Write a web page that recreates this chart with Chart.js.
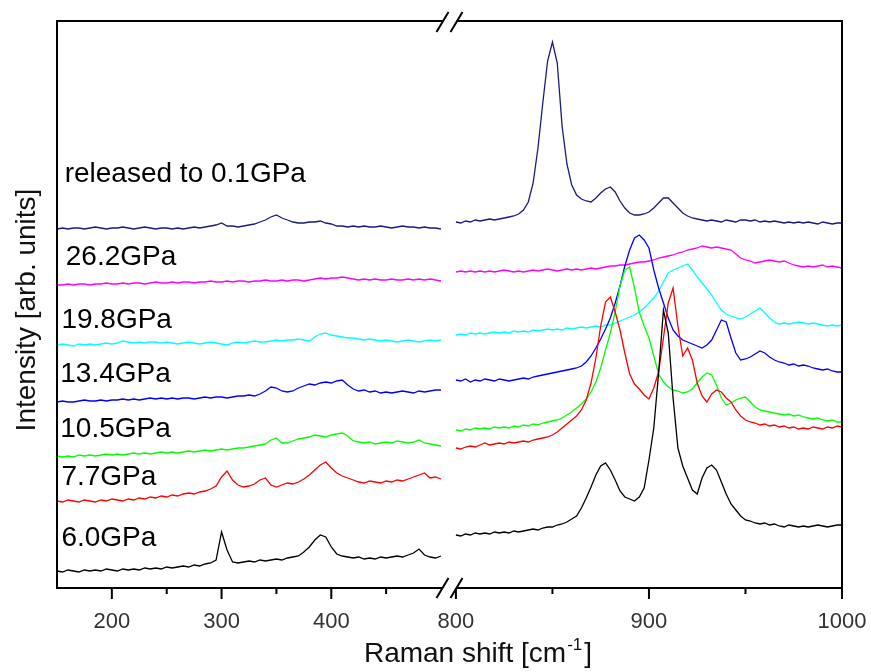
<!DOCTYPE html>
<html>
<head>
<meta charset="utf-8">
<script src="https://cdn.jsdelivr.net/npm/chart.js@4"></script>
<style>
  body { margin: 0; background: #fff; }
  #wrap { width: 871px; height: 672px; }
</style>
</head>
<body>
<div id="wrap"><canvas id="ramanChart" width="871" height="672"></canvas></div>
<script>
// Raman shift grids (cm-1) for the two parts of the broken axis
var leftShift = [150, 155, 160, 165, 170, 175, 180, 185, 190, 195,
    200, 205, 210, 215, 220, 225, 230, 235, 240, 245,
    250, 255, 260, 265, 270, 275, 280, 285, 290, 295,
    300, 305, 310, 315, 320, 325, 330, 335, 340, 345,
    350, 355, 360, 365, 370, 375, 380, 385, 390, 395,
    400, 405, 410, 415, 420, 425, 430, 435, 440, 445,
    450, 455, 460, 465, 470, 475, 480, 485, 490, 495,
    500];
var rightShift = [800, 802.5, 805, 807.5, 810, 812.5, 815, 817.5, 820, 822.5,
    825, 827.5, 830, 832.5, 835, 837.5, 840, 842.5, 845, 847.5,
    850, 852.5, 855, 857.5, 860, 862.5, 865, 867.5, 870, 872.5,
    875, 877.5, 880, 882.5, 885, 887.5, 890, 892.5, 895, 897.5,
    900, 902.5, 905, 907.5, 910, 912.5, 915, 917.5, 920, 922.5,
    925, 927.5, 930, 932.5, 935, 937.5, 940, 942.5, 945, 947.5,
    950, 952.5, 955, 957.5, 960, 962.5, 965, 967.5, 970, 972.5,
    975, 977.5, 980, 982.5, 985, 987.5, 990, 992.5, 995, 997.5,
    1000];

var leftTicks = [200, 250, 300, 350, 400, 450];
var rightTicks = [800, 850, 900, 950, 1000];

// intensities (arb. units, curves offset as in the figure)
var released01Left = [359, 360, 359, 360, 360, 359, 360, 361, 360, 359,
    360, 360, 361, 360, 359, 360, 361, 360, 359, 360,
    360, 359, 360, 359, 360, 361, 360, 361, 362, 363,
    365, 362, 362, 361, 362, 363, 364, 366, 368, 371,
    373, 370, 368, 366, 365, 365, 366, 366, 367, 365,
    364, 362, 362, 361, 362, 361, 362, 361, 361, 362,
    361, 360, 361, 362, 361, 361, 360, 361, 360, 360,
    359];
var released01Right = [366, 365, 367, 366, 368, 367, 368, 369, 368, 369,
    370, 371, 372, 374, 378, 386, 405, 440, 485, 527,
    546, 525, 462, 424, 403, 393, 389, 387, 386, 390,
    395, 399, 401, 396, 387, 380, 375, 373, 373, 374,
    376, 380, 385, 390, 390, 385, 380, 375, 372, 370,
    369, 368, 367, 368, 367, 366, 368, 367, 366, 368,
    368, 367, 368, 366, 367, 366, 367, 366, 365, 366,
    365, 366, 365, 366, 365, 364, 366, 365, 364, 365,
    365];

var p262Left = [303, 303, 304, 303, 304, 304, 303, 304, 304, 305,
    304, 304, 305, 304, 305, 305, 304, 305, 306, 305,
    305, 306, 305, 306, 306, 305, 306, 306, 307, 306,
    306, 307, 306, 307, 307, 306, 307, 307, 308, 307,
    307, 308, 307, 308, 308, 307, 308, 309, 310, 309,
    310, 310, 311, 310, 309, 308, 309, 308, 309, 308,
    308, 309, 308, 308, 309, 308, 309, 308, 309, 308,
    307];
var p262Right = [316, 317, 316, 317, 316, 317, 316, 317, 316, 317,
    318, 317, 316, 317, 316, 317, 318, 317, 318, 319,
    318, 317, 318, 319, 318, 319, 318, 319, 320, 319,
    320, 321, 322, 322, 323, 323, 324, 325, 326, 326,
    327, 328, 330, 331, 332, 333, 335, 336, 338, 339,
    340, 342, 341, 340, 341, 340, 339, 338, 334, 330,
    328, 327, 325, 326, 327, 328, 327, 326, 327, 325,
    323, 322, 321, 322, 321, 322, 323, 321, 322, 321,
    320];

var p198Left = [243, 244, 243, 242, 244, 243, 244, 243, 244, 245,
    244, 245, 247, 246, 245, 246, 245, 246, 246, 245,
    246, 245, 244, 245, 246, 245, 244, 245, 246, 245,
    244, 243, 245, 246, 245, 246, 247, 246, 246, 247,
    248, 247, 248, 248, 249, 248, 247, 251, 254, 255,
    253, 252, 251, 250, 250, 249, 248, 249, 248, 247,
    248, 247, 246, 247, 248, 247, 246, 247, 248, 247,
    248];
var p198Right = [253, 254, 253, 255, 254, 255, 254, 255, 256, 255,
    256, 255, 257, 256, 257, 256, 258, 257, 258, 259,
    258, 259, 258, 260, 259, 260, 261, 260, 261, 262,
    261, 263, 263, 265, 267, 269, 271, 273, 276, 280,
    285, 290, 297, 306, 315, 318, 320, 322, 324, 318,
    311, 305, 299, 293, 285, 278, 274, 272, 270, 269,
    271, 274, 277, 280, 275, 270, 266, 264, 265, 264,
    265, 266, 265, 264, 265, 264, 263, 262, 263, 262,
    263];

var p134Left = [186, 187, 186, 186, 187, 188, 187, 187, 188, 187,
    188, 188, 189, 188, 189, 188, 189, 190, 189, 190,
    189, 190, 189, 190, 190, 189, 190, 191, 190, 191,
    191, 190, 191, 192, 192, 193, 192, 194, 197, 201,
    200, 197, 196, 197, 200, 202, 204, 203, 205, 206,
    205, 207, 208, 203, 199, 197, 198, 196, 197, 195,
    196, 195, 196, 197, 196, 195, 197, 196, 197, 198,
    198];
var p134Right = [208, 207, 209, 206, 208, 207, 209, 208, 207, 209,
    208, 207, 208, 209, 210, 209, 211, 212, 213, 214,
    215, 216, 217, 218, 219, 220, 222, 226, 232, 240,
    249, 259, 270, 285, 302, 322, 338, 350, 353, 348,
    340, 318, 300, 285, 270, 258, 252, 248, 246, 244,
    242, 240, 243, 248, 258, 268, 266, 250, 235, 228,
    229, 231, 234, 237, 235, 231, 228, 226, 225, 223,
    224, 222, 223, 222, 220, 219, 218, 219, 217, 216,
    216];

var p105Left = [132, 131, 132, 131, 133, 132, 133, 132, 133, 134,
    133, 134, 133, 134, 135, 134, 135, 134, 135, 136,
    135, 136, 135, 136, 137, 136, 137, 138, 137, 138,
    139, 138, 139, 140, 140, 141, 142, 143, 144, 148,
    150, 145, 145, 147, 149, 150, 151, 153, 152, 151,
    153, 154, 155, 152, 147, 146, 145, 146, 144, 145,
    146, 145, 147, 146, 145, 146, 148, 145, 144, 143,
    142];
var p105Right = [158, 157, 159, 158, 160, 159, 160, 159, 161, 160,
    161, 160, 162, 161, 163, 162, 164, 163, 165, 166,
    167, 168, 170, 173, 176, 180, 184, 189, 196, 206,
    220, 238, 255, 276, 302, 318, 321, 300, 276, 262,
    250, 232, 214, 206, 201, 198, 197, 195, 196, 199,
    205, 211, 215, 213, 203, 190, 183, 185, 188, 190,
    191, 186, 181, 178, 177, 176, 175, 174, 173, 174,
    172, 173, 171, 170, 169, 170, 168, 167, 168, 166,
    166];

var p77Left = [87, 86, 88, 87, 86, 88, 87, 86, 88, 87,
    89, 88, 87, 89, 88, 90, 89, 91, 90, 92,
    91, 93, 92, 94, 95, 94, 96, 97, 99, 102,
    111, 117, 108, 103, 101, 102, 104, 108, 110, 103,
    101, 103, 105, 104, 106, 109, 113, 118, 123, 126,
    120, 115, 112, 110, 108, 106, 105, 107, 106, 105,
    107, 106, 108, 107, 109, 111, 113, 115, 110, 111,
    109];
var p77Right = [140, 139, 141, 142, 141, 143, 145, 143, 144, 145,
    144, 146, 145, 146, 147, 146, 148, 149, 150, 151,
    153, 156, 160, 164, 168, 172, 178, 188, 205, 230,
    262, 286, 291, 276, 258, 235, 214, 204, 199, 193,
    189, 200, 216, 250, 285, 300, 262, 232, 240, 228,
    205, 192, 186, 194, 198, 196, 190, 186, 178, 172,
    168, 166, 165, 163, 164, 162, 163, 161, 162, 160,
    161, 159, 160, 159, 161, 160, 159, 161, 160, 162,
    161];

var p60Left = [17, 16, 18, 17, 16, 18, 17, 18, 17, 19,
    18, 17, 19, 18, 19, 18, 20, 19, 20, 19,
    21, 20, 21, 22, 21, 23, 22, 24, 25, 28,
    56, 38, 26, 25, 26, 27, 26, 28, 27, 28,
    29, 28, 30, 31, 32, 36, 41, 48, 53, 51,
    41, 34, 32, 31, 30, 31, 29, 30, 29, 31,
    30, 31, 32, 31, 33, 35, 39, 33, 31, 30,
    32];
var p60Right = [53, 52, 54, 53, 55, 54, 55, 54, 56, 55,
    56, 55, 57, 56, 57, 58, 59, 58, 60, 61,
    61, 63, 64, 66, 69, 72, 80, 90, 101, 113,
    122, 125, 118, 108, 97, 91, 89, 87, 91, 100,
    128, 160, 215, 278, 255, 190, 140, 122, 110, 98,
    94, 110, 120, 123, 118, 106, 94, 84, 78, 72,
    68, 67, 65, 64, 65, 63, 64, 62, 61, 63,
    62, 61, 62, 61, 62, 63, 62, 61, 62, 63,
    63];

var spectra = [
    { name: '6.0GPa', color: '#000000', left: p60Left, right: p60Right },
    { name: '7.7GPa', color: '#ff0000', left: p77Left, right: p77Right },
    { name: '10.5GPa', color: '#00ff00', left: p105Left, right: p105Right },
    { name: '13.4GPa', color: '#0000ff', left: p134Left, right: p134Right },
    { name: '19.8GPa', color: '#00ffff', left: p198Left, right: p198Right },
    { name: '26.2GPa', color: '#ff00ff', left: p262Left, right: p262Right },
    { name: 'released to 0.1GPa', color: '#1a1a80', left: released01Left, right: released01Right }
];

// where each curve name sits (x in cm-1 on the left part, y = baseline in intensity units)
var labelSpots = {
    '6.0GPa': [154, 42],
    '7.7GPa': [154, 103],
    '10.5GPa': [153, 151],
    '13.4GPa': [153, 206],
    '19.8GPa': [154, 260],
    '26.2GPa': [158, 323],
    'released to 0.1GPa': [157, 406]
};

function toPoints(xs, ys) {
    return xs.map(function (x, i) { return { x: x, y: ys[i] }; });
}

var datasets = [];
spectra.forEach(function (s) {
    datasets.push({
        label: s.name, data: toPoints(leftShift, s.left), xAxisID: 'xL', yAxisID: 'y',
        borderColor: s.color, borderWidth: 1.3, pointRadius: 0, tension: 0
    });
    datasets.push({
        label: s.name, data: toPoints(rightShift, s.right), xAxisID: 'xR', yAxisID: 'y',
        borderColor: s.color, borderWidth: 1.3, pointRadius: 0, tension: 0
    });
});

var FONT = "'Liberation Sans', Arial, sans-serif";

function xScale(min, max, weight, ticks) {
    return {
        type: 'linear', position: 'bottom', stack: 'x', stackWeight: weight,
        min: min, max: max,
        grid: { display: false, drawTicks: false },
        border: { display: false },
        afterBuildTicks: function (s) { s.ticks = ticks.map(function (v) { return { value: v }; }); },
        afterFit: function (s) {
            s.height = 84;
            s.paddingLeft = 0;
            s.paddingRight = 0;
        },
        ticks: {
            autoSkip: false, maxRotation: 0, padding: 21, color: '#333',
            font: { family: FONT, size: 22 },
            callback: function (v) { return v % 100 === 0 ? v : ''; }
        }
    };
}

var decorations = {
    id: 'decorations',
    afterDraw: function (chart) {
        var ctx = chart.ctx, a = chart.chartArea;
        var xL = chart.scales.xL, xR = chart.scales.xR, y = chart.scales.y;
        var b1 = xL.right - 5.5, b2 = xR.left + 8.5;
        ctx.save();
        ctx.strokeStyle = '#000';
        ctx.lineWidth = 2;
        ctx.beginPath();
        ctx.moveTo(b1, a.top); ctx.lineTo(a.left, a.top); ctx.lineTo(a.left, a.bottom); ctx.lineTo(b1, a.bottom);
        ctx.moveTo(b2, a.top); ctx.lineTo(a.right, a.top); ctx.lineTo(a.right, a.bottom); ctx.lineTo(b2, a.bottom);
        ctx.stroke();
        // axis break marks
        ctx.beginPath();
        [a.top + 1, a.bottom].forEach(function (yy) {
            [b1, b2].forEach(function (xx) {
                ctx.moveTo(xx - 6, yy + 10); ctx.lineTo(xx + 6, yy - 10);
            });
        });
        ctx.stroke();
        // tick marks, long at labelled values
        ctx.beginPath();
        [xL, xR].forEach(function (s) {
            s.ticks.forEach(function (t) {
                var px = s.getPixelForValue(t.value);
                var len = t.value % 100 === 0 ? 11 : 6;
                ctx.moveTo(px, a.bottom); ctx.lineTo(px, a.bottom + len);
            });
        });
        ctx.stroke();

        // curve names
        ctx.fillStyle = '#000';
        ctx.font = '28px ' + FONT;
        ctx.textAlign = 'left';
        ctx.textBaseline = 'alphabetic';
        spectra.forEach(function (s) {
            var p = labelSpots[s.name];
            ctx.fillText(s.name, xL.getPixelForValue(p[0]), y.getPixelForValue(p[1]));
        });

        // x title with superscript
        ctx.fillStyle = '#111';
        var main = 'Raman shift [cm', sup = '-1', end = ']';
        ctx.font = '28px ' + FONT;
        var w1 = ctx.measureText(main).width, w3 = ctx.measureText(end).width;
        ctx.font = '17px ' + FONT;
        var w2 = ctx.measureText(sup).width;
        var x0 = 478 - (w1 + w2 + w3 + 3) / 2, yb = 662;
        ctx.font = '28px ' + FONT;
        ctx.fillText(main, x0, yb);
        ctx.font = '17px ' + FONT;
        ctx.fillText(sup, x0 + w1 + 1, yb - 12);
        ctx.font = '28px ' + FONT;
        ctx.fillText(end, x0 + w1 + w2 + 3, yb);

        // y title
        ctx.translate(35, 310);
        ctx.rotate(-Math.PI / 2);
        ctx.textAlign = 'center';
        ctx.fillText('Intensity [arb. units]', 0, 0);
        ctx.restore();
    }
};

new Chart(document.getElementById('ramanChart').getContext('2d'), {
    type: 'line',
    data: { datasets: datasets },
    options: {
        responsive: false,
        animation: false,
        layout: { padding: { left: 57, right: 29, top: 21, bottom: 0 } },
        plugins: { legend: { display: false }, tooltip: { enabled: false } },
        elements: { point: { radius: 0 } },
        scales: {
            xL: xScale(150, 506.4, 391, leftTicks),
            xR: xScale(795.9, 1000, 394, rightTicks),
            y: { display: false, min: 0, max: 567 }
        }
    },
    plugins: [decorations]
});
</script>
</body>
</html>
